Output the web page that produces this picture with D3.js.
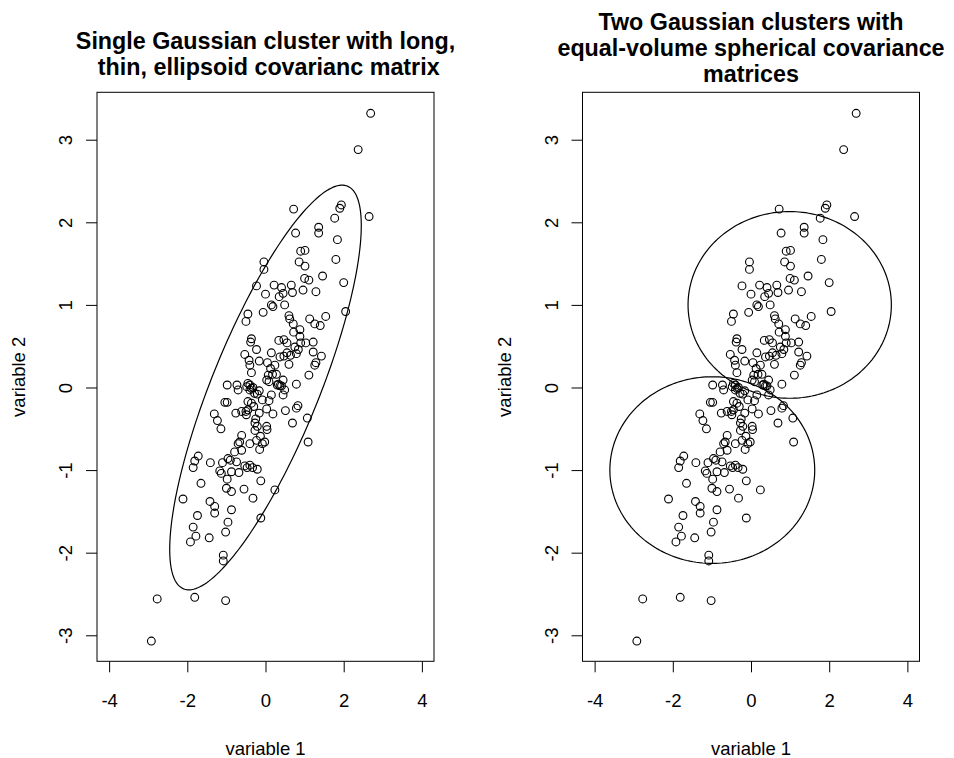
<!DOCTYPE html>
<html>
<head>
<meta charset="utf-8">
<script src="https://cdn.jsdelivr.net/npm/d3@7"></script>
<style>
  body { margin: 0; background: #fff; }
  svg { font-family: "Liberation Sans", Arial, Helvetica, sans-serif; }
</style>
</head>
<body>
<div id="canvas"></div>
<script>
// observations (variable 1, variable 2) - same sample in both panels
var points = [
  [2.69, 3.32], [2.37, 2.88], [0.72, 2.16], [1.94, 2.21], [1.90, 2.17], [1.77, 2.05],
  [2.65, 2.07], [1.36, 1.94], [1.36, 1.87], [0.77, 1.87], [1.84, 1.79], [0.90, 1.65],
  [1.01, 1.66], [-0.04, 1.52], [-0.04, 1.43], [0.86, 1.52], [1.01, 1.47], [1.80, 1.55],
  [1.00, 1.32], [1.11, 1.30], [1.46, 1.35], [2.00, 1.27], [-0.23, 1.23], [0.22, 1.24],
  [0.41, 1.21], [0.66, 1.24], [0.00, 1.13], [0.45, 1.14], [0.35, 1.10], [0.69, 1.15],
  [0.96, 1.18], [1.29, 1.16], [0.15, 1.00], [0.19, 0.98], [0.49, 1.00], [2.05, 0.92],
  [-0.06, 0.91], [-0.45, 0.89], [-0.50, 0.80], [0.60, 0.87], [0.62, 0.83], [1.13, 0.83],
  [1.26, 0.77], [1.40, 0.75], [1.54, 0.86], [0.71, 0.77], [0.72, 0.67], [0.88, 0.70],
  [0.88, 0.62], [0.90, 0.54], [-0.36, 0.59], [-0.38, 0.55], [0.34, 0.57], [0.47, 0.58],
  [0.55, 0.54], [0.75, 0.49], [0.84, 0.46], [0.79, 0.41], [1.03, 0.54], [1.22, 0.55],
  [-0.23, 0.46], [-0.53, 0.40], [0.15, 0.42], [0.37, 0.37], [0.55, 0.42], [0.64, 0.39],
  [0.47, 0.38], [1.22, 0.43], [1.43, 0.38], [1.29, 0.30], [1.26, 0.27], [-0.42, 0.33],
  [-0.16, 0.32], [-0.40, 0.27], [0.05, 0.30], [0.13, 0.23], [0.18, 0.16], [0.28, 0.16],
  [-0.36, 0.18], [1.11, 0.15], [-0.98, 0.03], [-0.73, 0.03], [-0.45, 0.05], [-0.40, 0.03],
  [-0.36, -0.01], [-0.40, -0.03], [-0.32, 0.00], [-0.28, -0.07], [-0.48, 0.01], [0.09, 0.07],
  [0.30, 0.03], [0.45, 0.09], [0.79, 0.04], [0.37, 0.02], [0.41, 0.02], [0.33, 0.04],
  [0.45, -0.09], [0.49, -0.03], [-0.70, -0.03], [-0.21, -0.08], [-0.16, -0.04], [0.15, -0.09],
  [0.09, -0.16], [-0.08, -0.15], [-1.04, -0.18], [-0.98, -0.18], [-0.45, -0.17], [-0.36, -0.19],
  [-0.30, -0.23], [-0.50, -0.29], [-0.45, -0.27], [-0.49, -0.33], [-0.76, -0.31], [-0.61, -0.29],
  [-0.16, -0.31], [0.03, -0.26], [0.19, -0.32], [0.51, -0.28], [0.79, -0.25], [0.83, -0.22],
  [1.07, -0.37], [0.69, -0.43], [-1.31, -0.32], [-1.23, -0.40], [-1.14, -0.50], [-0.25, -0.38],
  [-0.27, -0.43], [-0.21, -0.47], [-0.27, -0.52], [0.03, -0.47], [0.04, -0.51], [-0.61, -0.58],
  [-0.66, -0.66], [-0.70, -0.68], [-0.61, -0.76], [-0.79, -0.78], [-0.40, -0.68], [-0.23, -0.64],
  [-0.13, -0.59], [-0.02, -0.66], [-0.08, -0.68], [-0.15, -0.75], [1.09, -0.66], [-1.81, -0.89],
  [-1.72, -0.83], [-1.85, -0.97], [-1.41, -0.91], [-1.10, -0.91], [-0.96, -0.86], [-0.90, -0.88],
  [-0.74, -0.90], [-0.53, -0.95], [-0.40, -0.94], [-0.33, -0.97], [-0.21, -0.99], [-1.17, -1.01],
  [-1.13, -1.04], [-0.87, -1.02], [-0.68, -1.03], [-0.47, -0.97], [-0.12, -1.13], [-0.98, -1.11],
  [-1.65, -1.16], [-1.00, -1.22], [-0.87, -1.26], [-0.55, -1.23], [-0.32, -1.34], [-2.11, -1.35],
  [-1.42, -1.38], [-1.30, -1.44], [-1.30, -1.52], [-0.87, -1.48], [-0.12, -1.58], [-1.74, -1.55],
  [-1.85, -1.69], [-1.78, -1.80], [-1.92, -1.87], [-1.44, -1.82], [-0.96, -1.63], [-1.02, -1.75],
  [-1.08, -2.03], [-1.08, -2.10], [0.24, -1.24], [-2.77, -2.56], [-1.81, -2.54], [-1.02, -2.58],
  [-2.92, -3.07], [0.03, 0.09], [0.07, 0.15], [0.60, 0.28], [0.24, 0.27]
];

var xTicks = [-4, -2, 0, 2, 4];
var yTicks = [-3, -2, -1, 0, 1, 2, 3];
var xLabel = "variable 1", yLabel = "variable 2";

var titleLeft = ["Single Gaussian cluster with long,", " thin, ellipsoid covarianc matrix"];
var titleRight = ["Two Gaussian clusters with", "equal-volume spherical covariance", "matrices"];

// fitted model outlines: [centre x, centre y, half-width, half-height, correlation]
var ellipsesLeft = [[0, 0, 2.45, 2.45, 0.80]];
var ellipsesRight = [[0.99, 1.0, 2.6, 1.13, 0], [-0.99, -1.0, 2.62, 1.13, 0]];

var W = 954, H = 758;
var svg = d3.select("#canvas").append("svg").attr("width", W).attr("height", H);

function draw(left, title, lastLine, ellipses) {
  var boxW = 337, top = 92.3, bottom = 661.3;
  var x = d3.scaleLinear().domain([-4.31, 4.31]).range([left, left + boxW]);
  var y = d3.scaleLinear().domain([-3.315, 3.574]).range([bottom, top]);
  var g = svg.append("g");

  // x axis
  var gx = g.append("g")
      .attr("transform", "translate(0," + bottom + ")")
      .call(d3.axisBottom(x).tickValues(xTicks).tickSize(11).tickPadding(22)
        .tickFormat(function(d){ return String(d); }));
  gx.select(".domain").remove();
  gx.selectAll("text").style("font-size", "18.5px").attr("fill", "#000");

  // y axis, labels parallel to axis like R
  var gy = g.append("g")
      .attr("transform", "translate(" + left + ",0)")
      .call(d3.axisLeft(y).tickValues(yTicks).tickSize(11)
        .tickFormat(function(d){ return String(d); }));
  gy.select(".domain").remove();
  gy.selectAll("text")
      .attr("x", 0).attr("dy", 0)
      .attr("text-anchor", "middle")
      .attr("transform", "translate(-25,0) rotate(-90)")
      .style("font-size", "18.5px").attr("fill", "#000");

  g.selectAll(".tick line").attr("stroke", "#000");

  // box
  g.append("rect")
      .attr("x", left).attr("y", top)
      .attr("width", boxW).attr("height", bottom - top)
      .attr("fill", "none").attr("stroke", "#000").attr("stroke-width", 1);

  // axis titles
  g.append("text")
      .attr("x", left + boxW / 2).attr("y", 755)
      .attr("text-anchor", "middle").style("font-size", "18.5px")
      .text(xLabel);
  g.append("text")
      .attr("transform", "translate(" + (left - 72) + "," + (top + bottom) / 2 + ") rotate(-90)")
      .attr("text-anchor", "middle").style("font-size", "18.5px")
      .text(yLabel);

  // main title, stacked upward from its last line
  var lh = 26, n = title.length;
  g.selectAll(".title").data(title).enter().append("text")
      .attr("class", "title")
      .attr("x", left + boxW / 2)
      .attr("y", function(d, i){ return lastLine - (n - 1 - i) * lh; })
      .attr("text-anchor", "middle")
      .style("font-size", "23.3px").style("font-weight", "bold")
      .style("white-space", "pre")
      .text(function(d){ return d; });

  // points
  g.selectAll(".pt").data(points).enter().append("circle")
      .attr("class", "pt")
      .attr("cx", function(d){ return x(d[0]); })
      .attr("cy", function(d){ return y(d[1]); })
      .attr("r", 3.9)
      .attr("fill", "none").attr("stroke", "#000").attr("stroke-width", 1.1);

  // ellipses
  var ts = d3.range(0, 201).map(function(i){ return i / 200 * 2 * Math.PI; });
  var line = d3.line();
  ellipses.forEach(function(e) {
    var s = Math.sqrt(1 - e[4] * e[4]);
    var path = ts.map(function(t) {
      return [x(e[0] + e[2] * Math.cos(t)),
              y(e[1] + e[3] * (e[4] * Math.cos(t) + s * Math.sin(t)))];
    });
    g.append("path").attr("d", line(path))
        .attr("fill", "none").attr("stroke", "#000").attr("stroke-width", 1.2);
  });
}

draw(97, titleLeft, 74.5, ellipsesLeft);
draw(582.5, titleRight, 82, ellipsesRight);
</script>
</body>
</html>
